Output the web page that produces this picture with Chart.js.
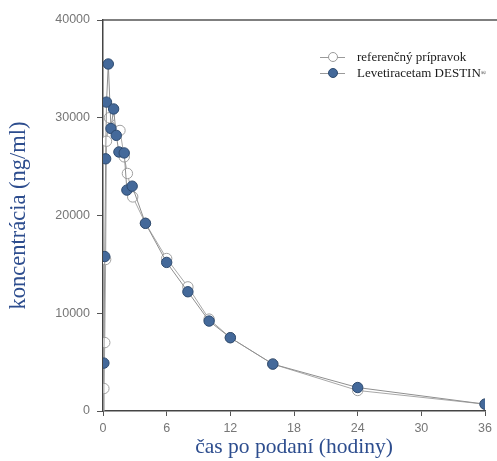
<!DOCTYPE html>
<html>
<head>
<meta charset="utf-8">
<script src="https://cdn.jsdelivr.net/npm/chart.js@4.4.0/dist/chart.umd.min.js"></script>
<style>
  html, body { margin: 0; padding: 0; background: #fff; }
  #wrap { position: relative; width: 497px; height: 461px; }
  .legend { position: absolute; left: 320px; top: 49px; font-family: "Liberation Serif", serif; font-size: 13px; color: #1a1a1a; }
  .item { height: 16px; display: flex; align-items: center; white-space: nowrap; }
  .icon { position: relative; width: 25px; height: 12px; margin-right: 12px; }
  .icon .ln { position: absolute; left: 0; right: 0; top: 6px; border-top: 1px solid #9a9a9a; }
  .icon .dot { position: absolute; left: 8px; top: 1px; width: 10px; height: 10px; border-radius: 50%; box-sizing: border-box; }
  sup { font-size: 7px; }
</style>
</head>
<body>
<div id="wrap">
  <canvas id="pk-chart" width="497" height="461"></canvas>
  <div class="legend">
    <div class="item"><span class="icon"><span class="ln"></span><span class="dot" style="background:#fff;border:1px solid #9a9a9a"></span></span>referenčný prípravok</div>
    <div class="item"><span class="icon"><span class="ln"></span><span class="dot" style="background:#44699a;border:1px solid #2e4b70"></span></span>Levetiracetam DESTIN<sup>®</sup></div>
  </div>
</div>
<script>
// casy odberu (hodiny) a koncentracie (ng/ml)
var destinTimes = [0, 0.083, 0.167, 0.25, 0.33, 0.5, 0.75, 1, 1.25, 1.5, 2, 2.25, 2.75, 4, 6, 8, 10, 12, 16, 24, 36];
var destinConc  = [0, 4900, 15800, 25800, 31600, 35500, 28900, 30900, 28200, 26500, 26400, 22600, 23000, 19200, 15200, 12200, 9200, 7500, 4800, 2400, 700];

var refTimes = [0, 0.083, 0.167, 0.25, 0.33, 0.6, 1.6, 2, 2.3, 2.8, 4, 6, 8, 10, 12, 16, 24, 36];
var refConc  = [0, 2300, 7000, 15500, 27600, 30000, 28700, 26000, 24300, 21900, 19200, 15600, 12700, 9400, 7500, 4800, 2100, 700];

var xTickValues = [0, 6, 12, 18, 24, 30, 36];
var yTickValues = [0, 10000, 20000, 30000, 40000];

function toPoints(times, values) {
  var pts = [];
  for (var i = 0; i < times.length; i++) {
    pts.push({ x: times[i], y: values[i] });
  }
  return pts;
}

// horna hranica grafu
var topBorder = {
  id: 'topBorder',
  afterDraw: function(chart) {
    var ctx = chart.ctx, area = chart.chartArea;
    ctx.save();
    ctx.strokeStyle = '#555';
    ctx.lineWidth = 1.5;
    ctx.beginPath();
    ctx.moveTo(area.left, area.top);
    ctx.lineTo(chart.width, area.top);
    ctx.stroke();
    ctx.restore();
  }
};

var tickFont = { family: '"Liberation Sans", sans-serif', size: 12.5 };

var ctx = document.getElementById('pk-chart').getContext('2d');
var chart = new Chart(ctx, {
  type: 'line',
  data: {
    datasets: [
      {
        label: 'Levetiracetam DESTIN®',
        data: toPoints(destinTimes, destinConc),
        borderColor: '#8f8f8f',
        borderWidth: 1,
        backgroundColor: '#44699a',
        pointBackgroundColor: '#44699a',
        pointBorderColor: '#2e4b70',
        pointBorderWidth: 1,
        pointRadius: function(c) { return c.dataIndex === 0 ? 0 : 5.2; },
        tension: 0
      },
      {
        label: 'referenčný prípravok',
        data: toPoints(refTimes, refConc),
        borderColor: '#a8a8a8',
        borderWidth: 1,
        backgroundColor: '#fff',
        pointBackgroundColor: '#fff',
        pointBorderColor: '#a0a0a0',
        pointBorderWidth: 1,
        pointRadius: function(c) { return c.dataIndex === 0 ? 0 : 5.2; },
        tension: 0
      }
    ]
  },
  options: {
    responsive: false,
    animation: false,
    layout: { padding: { top: 20, right: 7, left: 0, bottom: 0 } },
    plugins: { legend: { display: false }, tooltip: { enabled: false } },
    scales: {
      x: {
        type: 'linear',
        min: 0,
        max: 36,
        afterBuildTicks: function(s) { s.ticks = xTickValues.map(function(v) { return { value: v }; }); },
        afterFit: function(s) { s.height = 50; },
        grid: { drawOnChartArea: false, tickLength: 5, color: '#555' },
        border: { color: '#444', width: 1.5 },
        ticks: { font: tickFont, color: '#767676', padding: 5, maxRotation: 0 },
        title: { display: true, text: 'čas po podaní (hodiny)', font: { family: '"Liberation Serif", serif', size: 21.5 }, color: '#2d4d8e', padding: { top: 0, bottom: 1 } }
      },
      y: {
        min: 0,
        max: 40000,
        afterBuildTicks: function(s) { s.ticks = yTickValues.map(function(v) { return { value: v }; }); },
        afterFit: function(s) { s.width = 103; },
        grid: { drawOnChartArea: false, tickLength: 6, color: '#555' },
        border: { color: '#444', width: 1.5 },
        ticks: { font: tickFont, color: '#767676', padding: 7, callback: function(v) { return String(v); } },
        title: { display: true, text: 'koncentrácia (ng/ml)', font: { family: '"Liberation Serif", serif', size: 22.5 }, color: '#2d4d8e', padding: { top: 6, bottom: 0 } }
      }
    }
  },
  plugins: [topBorder]
});
</script>
</body>
</html>
